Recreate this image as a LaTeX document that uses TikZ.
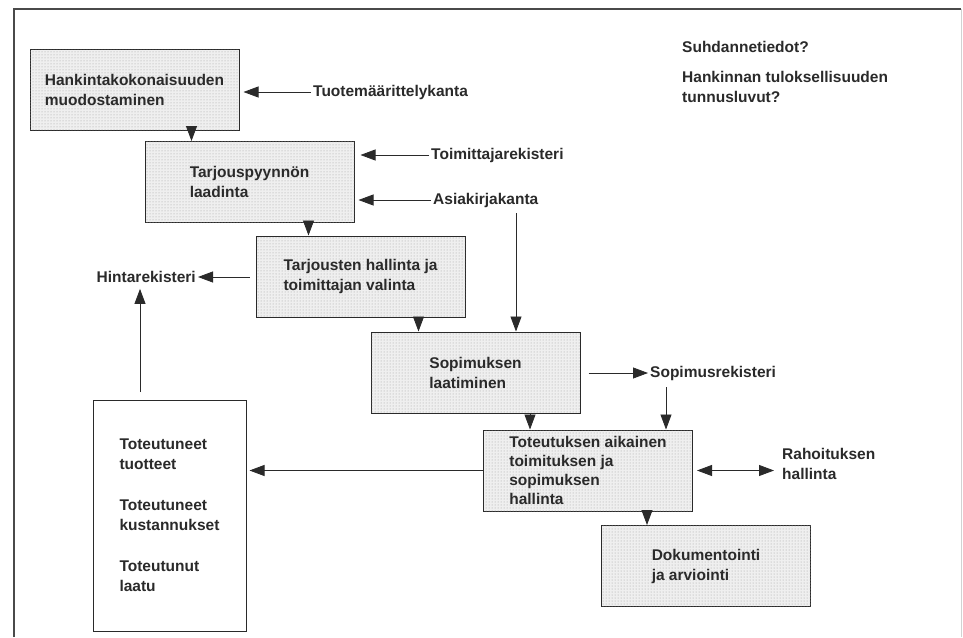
\documentclass[tikz,border=0pt]{standalone}
\usepackage{fontspec}
\setmainfont{Liberation Sans}
\usetikzlibrary{arrows.meta,calc,patterns}
\definecolor{ink}{HTML}{2A2A2A}
\definecolor{boxfill}{HTML}{EFEFEF}
\tikzset{
  every node/.style={font=\bfseries\fontsize{15.5}{20}\selectfont, text=ink},
  process/.style={draw=ink, line width=1pt, fill=boxfill,
    postaction={pattern=dots, pattern color=gray!75},
    minimum width=209pt, minimum height=81pt, align=left, inner sep=0pt},
  outcome/.style={draw=ink, line width=1pt, fill=white,
    minimum width=153pt, minimum height=231pt, align=left, inner sep=0pt},
  store/.style={inner sep=2pt, align=left},
  flow/.style={draw=ink, line width=0.8pt, -{Triangle[length=15pt,width=11pt]}},
  twoway/.style={draw=ink, line width=0.8pt,
    {Triangle[length=15pt,width=11pt]}-{Triangle[length=15pt,width=11pt]}},
  frame/.style={draw=ink!85, line width=1.2pt},
}
\begin{document}
\begin{tikzpicture}[x=1pt, y=-1pt]
  \fill[white] (0,0) rectangle (963,637);
  \useasboundingbox (0,0) rectangle (963,637);

  % outer frame (open at the bottom)
  \draw[frame] (14,637) -- (14,9) -- (961,9);
  \draw[gray!35, line width=0.8pt] (961,9) -- (961,637);

  % process steps
  \node[process] (b1) at (134.5,90)  {Hankintakokonaisuuden\\muodostaminen};
  \node[process] (b2) at (249.5,182) {Tarjouspyynnön\\laadinta};
  \node[process] (b3) at (360.5,276.5) {Tarjousten hallinta ja\\toimittajan valinta};
  \node[process] (b4) at (475.5,372.5) {Sopimuksen\\laatiminen};
  \node[process, font=\bfseries\fontsize{15.5}{19}\selectfont] (b5) at (588,470.5)
    {Toteutuksen aikainen\\toimituksen ja\\sopimuksen\\hallinta};
  \node[process] (b6) at (706,566) {Dokumentointi\\ja arviointi};

  % realised results
  \node[outcome] (real) at (169.5,515.5)
    {Toteutuneet\\tuotteet\\[21pt]Toteutuneet\\kustannukset\\[21pt]Toteutunut\\laatu};

  % registers and data sources
  \node[store, anchor=west] (tuote) at (311,92)  {Tuotemäärittelykanta};
  \node[store, anchor=west] (toim)  at (429,155) {Toimittajarekisteri};
  \node[store, anchor=west] (asia)  at (431,200) {Asiakirjakanta};
  \node[store, anchor=east] (hinta) at (198,277) {Hintarekisteri};
  \node[store, anchor=west] (sopre) at (648,373) {Sopimusrekisteri};
  \node[store, anchor=west] (raho)  at (780,464) {Rahoituksen\\hallinta};
  \node[store, anchor=west] (suhd)  at (680,47)  {Suhdannetiedot?};
  \node[store, anchor=west] (tunn)  at (680,87)  {Hankinnan tuloksellisuuden\\tunnusluvut?};

  % step-to-step arrows
  \coordinate (s12) at ($(b2.north west)+(47,0)$);
  \coordinate (s23) at ($(b3.north west)+(53,0)$);
  \coordinate (s34) at ($(b4.north west)+(48,0)$);
  \coordinate (s45) at ($(b5.north west)+(47,0)$);
  \coordinate (s56) at ($(b6.north west)+(46,0)$);
  \draw[flow] (s12 |- b1.south) -- (s12);
  \draw[flow] (s23 |- b2.south) -- (s23);
  \draw[flow] (s34 |- b3.south) -- (s34);
  \draw[flow] (s45 |- b4.south) -- (s45);
  \draw[flow] (s56 |- b5.south) -- (s56);

  % inputs from registers
  \draw[flow] (tuote.west) -- ([xshift=4pt]tuote.west -| b1.east);
  \draw[flow] (toim.west)  -- ([xshift=6pt]toim.west -| b2.east);
  \draw[flow] (asia.west)  -- ([xshift=4pt]asia.west -| b2.east);
  \coordinate (akdrop) at (516,213);
  \draw[flow] (akdrop) -- (akdrop |- b4.north);

  % outputs to registers
  \draw[flow] ([xshift=-6pt]b3.west |- hinta.east) -- (hinta.east);
  \draw[flow] ([xshift=8pt]b4.east |- sopre.west) -- (sopre.west);
  \coordinate (sdrop) at (666,387);
  \draw[flow] (sdrop) -- (sdrop |- b5.north);
  \draw[twoway] ([xshift=4pt]b5.east) -- ([xshift=-6pt]b5.east -| raho.west);

  % realised results feed back
  \draw[flow] (b5.west) -- ([xshift=3pt]b5.west -| real.east);
  \coordinate (hup) at (140,392);
  \draw[flow] (hup) -- ([yshift=-4pt]hup |- hinta.south);
\end{tikzpicture}
\end{document}
